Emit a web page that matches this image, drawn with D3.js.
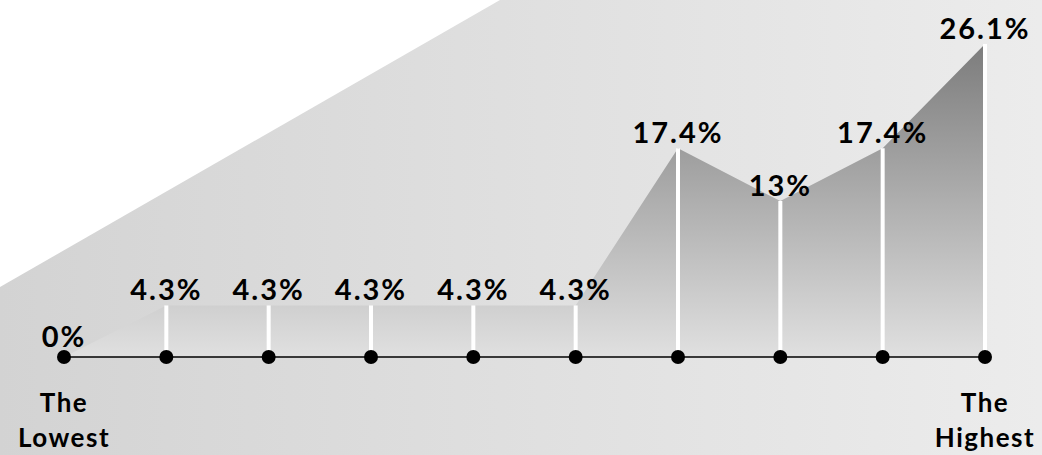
<!DOCTYPE html>
<html>
<head>
<meta charset="utf-8">
<script src="https://cdn.jsdelivr.net/npm/d3@7"></script>
<style>
  html, body { margin: 0; padding: 0; background: #fff; }
  svg { display: block; }
  text { font-family: Lato, "Open Sans", sans-serif; font-weight: 700; fill: #000; }
</style>
</head>
<body>
<svg id="chart" width="1042" height="455"></svg>
<script>
// Share of respondents at each of ten levels, lowest to highest
const levels = ["1", "2", "3", "4", "5", "6", "7", "8", "9", "10"];
const shares = [0, 4.3, 4.3, 4.3, 4.3, 4.3, 17.4, 13, 17.4, 26.1];
const valueLabels = ["0%", "4.3%", "4.3%", "4.3%", "4.3%", "4.3%", "17.4%", "13%", "17.4%", "26.1%"];
const endLabels = [["The", "Lowest"], ["The", "Highest"]];

const W = 1042, H = 455;
const svg = d3.select("#chart");
const defs = svg.append("defs");

// Background: soft grey wash with a white corner wedge
const bg = defs.append("linearGradient").attr("id", "bgGrad")
  .attr("x1", "0%").attr("y1", "0%").attr("x2", "100%").attr("y2", "0%");
bg.append("stop").attr("offset", "0%").attr("stop-color", "#d3d3d3");
bg.append("stop").attr("offset", "100%").attr("stop-color", "#ececec");
svg.append("rect").attr("width", W).attr("height", H).attr("fill", "url(#bgGrad)");
svg.append("path").attr("d", "M0,0 L500,0 L0,287 Z").attr("fill", "#ffffff");

const x = d3.scalePoint().domain(levels).range([64, 985]);
const y = d3.scaleLinear().domain([0, 26.1]).range([357, 44]);

// Area under the profile, darker towards the top
const ag = defs.append("linearGradient").attr("id", "areaGrad")
  .attr("gradientUnits", "userSpaceOnUse")
  .attr("x1", 0).attr("y1", y(26.1)).attr("x2", 0).attr("y2", y(0));
ag.append("stop").attr("offset", "0%").attr("stop-color", "#7c7c7c");
ag.append("stop").attr("offset", "100%").attr("stop-color", "#e0e0e0");

const data = levels.map((l, i) => ({ level: l, value: shares[i], label: valueLabels[i] }));

const area = d3.area()
  .x(d => x(d.level))
  .y0(y(0))
  .y1(d => y(d.value));
svg.append("path").datum(data).attr("d", area).attr("fill", "url(#areaGrad)");

// White stems
svg.selectAll("line.stem").data(data.filter(d => d.value > 0)).join("line")
  .attr("class", "stem")
  .attr("x1", d => x(d.level)).attr("x2", d => x(d.level))
  .attr("y1", y(0)).attr("y2", d => y(d.value))
  .attr("stroke", "#ffffff").attr("stroke-width", 4);

// Baseline axis
svg.append("line")
  .attr("x1", x(levels[0])).attr("x2", x(levels[levels.length - 1]))
  .attr("y1", y(0)).attr("y2", y(0))
  .attr("stroke", "#000").attr("stroke-width", 1.5);

svg.selectAll("circle.dot").data(data).join("circle")
  .attr("class", "dot")
  .attr("cx", d => x(d.level)).attr("cy", y(0)).attr("r", 7)
  .attr("fill", "#000");

// Value labels
svg.selectAll("text.val").data(data).join("text")
  .attr("class", "val")
  .attr("x", d => x(d.level))
  .attr("y", d => y(d.value) - (d.value === 0 ? 10 : 5))
  .attr("text-anchor", "middle")
  .attr("font-size", 29)
  .attr("letter-spacing", 2)
  .text(d => d.label);

// End labels
[0, levels.length - 1].forEach((idx, k) => {
  const t = svg.append("text")
    .attr("text-anchor", "middle").attr("font-size", 26)
    .attr("letter-spacing", 1.5);
  t.append("tspan").attr("x", x(levels[idx])).attr("y", 412).text(endLabels[k][0]);
  t.append("tspan").attr("x", x(levels[idx])).attr("y", 447).text(endLabels[k][1]);
});
</script>
</body>
</html>
